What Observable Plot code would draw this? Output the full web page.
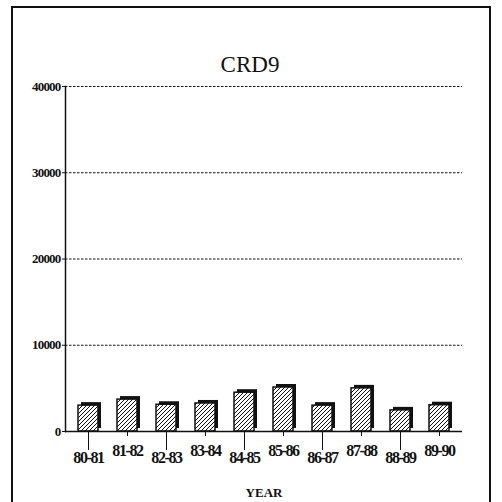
<!DOCTYPE html>
<html>
<head>
<meta charset="utf-8">
<script src="https://cdn.jsdelivr.net/npm/d3@7"></script>
<script src="https://cdn.jsdelivr.net/npm/@observablehq/plot@0.6"></script>
<style>
  html, body { margin: 0; padding: 0; background: #fff; }
  #wrap { position: relative; width: 502px; height: 502px; overflow: hidden; }
  #border { position: absolute; left: 11px; top: 6px; width: 480px; height: 520px;
            border: 2px solid #111; box-sizing: border-box; }
  #chart { position: absolute; left: 0; top: 0; }
  svg text { font-family: 'Liberation Serif', 'DejaVu Serif', serif; }
  g[aria-label="x-axis tick label"] text { letter-spacing: -1.4px; }
  g[aria-label="y-axis tick label"] text { letter-spacing: -0.8px; }
</style>
</head>
<body>
<div id="wrap"><div id="border"></div><div id="chart"></div></div>
<script>
const years = ["80-81", "81-82", "82-83", "83-84", "84-85", "85-86", "86-87", "87-88", "88-89", "89-90"];
const values = [3000, 3700, 3100, 3250, 4500, 5100, 3000, 5000, 2450, 3050];
const yTicks = [0, 10000, 20000, 30000, 40000];
const gridTicks = [10000, 20000, 30000, 40000];
const lowLabels = ["80-81", "82-83", "84-85", "86-87", "88-89"];
const highLabels = ["81-82", "83-84", "85-86", "87-88", "89-90"];
const title = "CRD9";
const xTitle = "YEAR";

const data = years.map((year, i) => ({year, value: values[i]}));
const serif = "'Liberation Serif', 'DejaVu Serif', serif";

const chart = Plot.plot({
  width: 502,
  height: 502,
  marginLeft: 65,
  marginRight: 40,
  marginTop: 86,
  marginBottom: 71,
  style: {fontFamily: serif, background: "transparent", color: "#111"},
  x: {domain: years, paddingInner: 0.5, paddingOuter: 0.25},
  y: {domain: [0, 40000]},
  marks: [
    Plot.gridY(gridTicks, {stroke: "#111", strokeOpacity: 1, strokeDasharray: "2.5,1.5", strokeWidth: 1}),
    Plot.barY(data, {x: "year", y: "value", fill: "#111", dx: 3, dy: -3}),
    Plot.barY(data, {x: "year", y: "value", fill: "url(#hatch)", stroke: "#111", strokeWidth: 1.5}),
    Plot.ruleY([0], {stroke: "#111", strokeWidth: 1.5}),
    Plot.frame({anchor: "left", stroke: "#111", strokeWidth: 1.5}),
    Plot.axisY({ticks: yTicks, tickSize: 3, tickPadding: 2, tickFormat: d3.format("d"), fontSize: 13, fontWeight: "bold", label: null}),
    Plot.axisX({ticks: lowLabels, tickSize: 19, tickPadding: 1, fontSize: 16, fontWeight: "bold", label: null}),
    Plot.axisX({ticks: highLabels, tickSize: 5, tickPadding: 8, fontSize: 16, fontWeight: "bold", label: null}),
    Plot.text([title], {frameAnchor: "top", dx: -14, dy: -15, lineAnchor: "bottom", fontSize: 23, fontFamily: serif}),
    Plot.text([xTitle], {frameAnchor: "bottom", dy: 56, lineAnchor: "top", fontSize: 13, fontWeight: "bold", fontFamily: serif})
  ]
});

d3.select(chart).insert("defs", ":first-child").html(
  `<pattern id="hatch" patternUnits="userSpaceOnUse" width="4" height="4">
     <rect width="4" height="4" fill="#fff"></rect>
     <path d="M-1,1 l2,-2 M0,4 l4,-4 M3,5 l2,-2" stroke="#111" stroke-width="1"></path>
   </pattern>`
);

document.getElementById("chart").appendChild(chart);
</script>
</body>
</html>
